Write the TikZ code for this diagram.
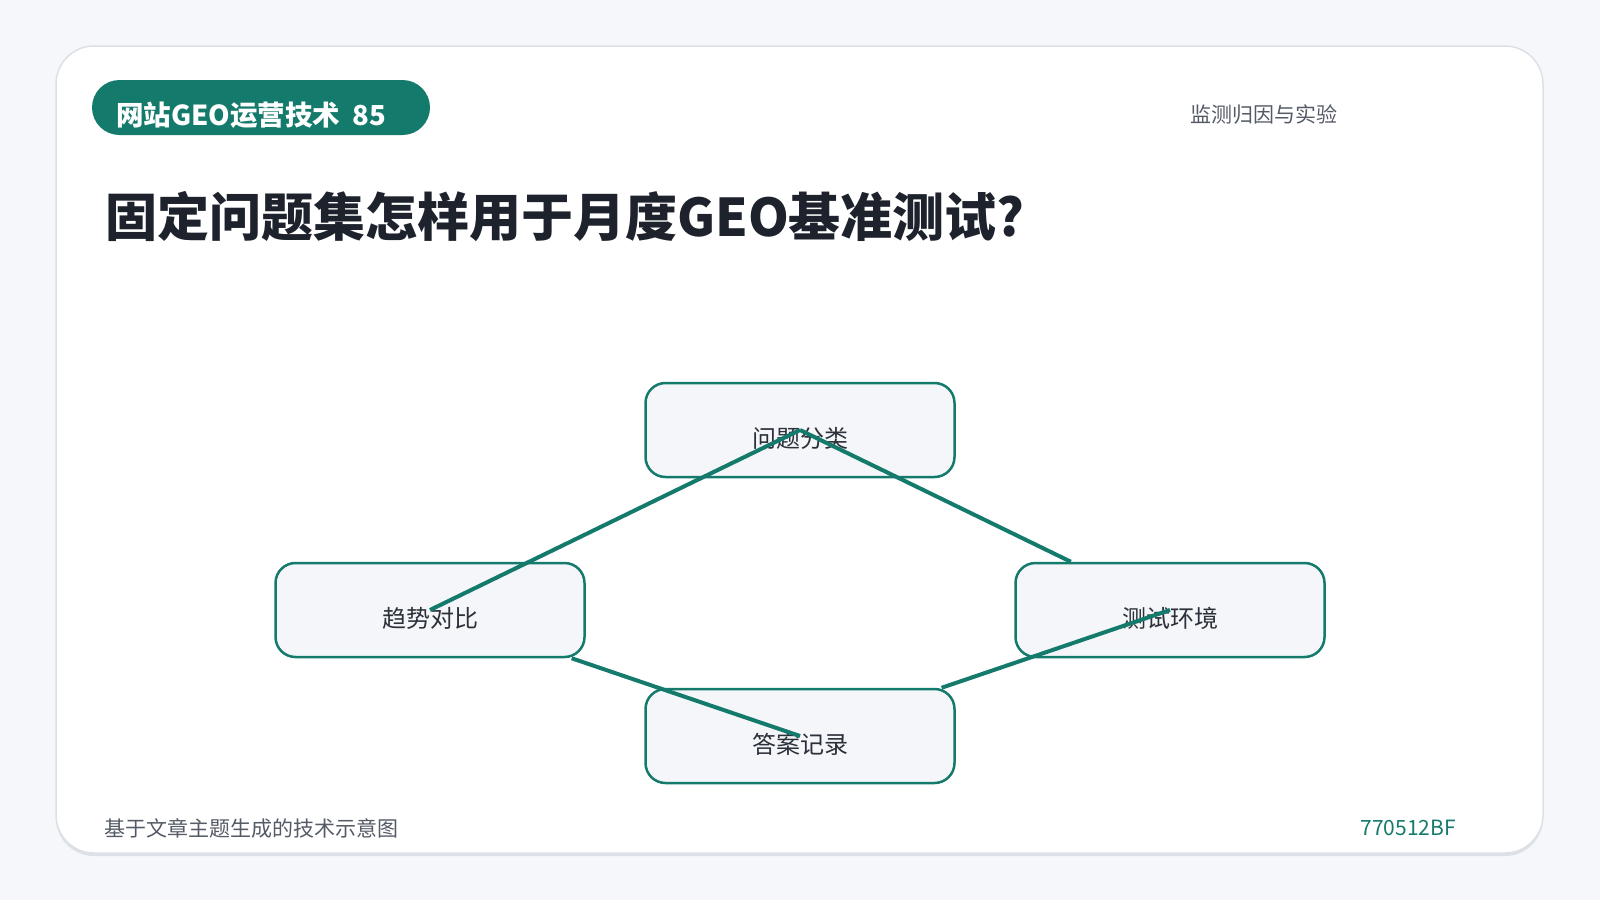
\documentclass[tikz,border=0pt]{standalone}
\usepackage{fontspec}
\setmainfont{Noto Sans CJK SC}
\definecolor{geoteal}{HTML}{147B6C}
\definecolor{pagebg}{HTML}{F5F7FA}
\definecolor{cardline}{HTML}{DCE1E8}
\definecolor{boxfill}{HTML}{F4F6F9}
\definecolor{titleink}{HTML}{1D222C}
\definecolor{greyink}{HTML}{555B66}
\definecolor{nodeink}{HTML}{2B303A}

\begin{document}
\begin{tikzpicture}[x=1pt, y=-1pt]
        \tikzstyle{every node}=[inner sep=0pt]
        \tikzstyle{stepbox}=[draw=geoteal, line width=2.5pt, fill=boxfill, rounded corners=20pt, minimum width=309pt, minimum height=94pt]
        \tikzstyle{steptext}=[text=nodeink, font=\fontsize{24}{28}\selectfont, yshift=-8pt]
        \tikzstyle{link}=[draw=geoteal, line width=4pt]
        \tikzstyle{smalltext}=[font=\fontsize{21}{25}\selectfont]
        \fill[pagebg] (0,0) rectangle (1600,900);
        \useasboundingbox (0,0) rectangle (1600,900);
        \fill[cardline, rounded corners=38pt] (56,49) rectangle (1543,856);
        \draw[cardline, fill=white, line width=1.5pt, rounded corners=38pt] (56,46) rectangle (1543,853);
        \fill[geoteal, rounded corners=27.5pt] (92,80) rectangle (430,135);
        \node (tag) [anchor=west, text=white, font=\fontsize{27.5}{32}\selectfont\bfseries] at (116,115) {网站GEO运营技术~~85};
        \node (topic) [anchor=west, text=greyink, smalltext] at (1190,114) {监测归因与实验};
        \node (title) [anchor=west, text=titleink, font=\fontsize{52}{60}\selectfont\bfseries] at (105,217) {固定问题集怎样用于月度GEO基准测试?};
        \node (cls) [stepbox, label={[steptext]center:问题分类}] at (800,430) {};
        \node (trd) [stepbox, label={[steptext]center:趋势对比}] at (430,610) {};
        \node (tst) [stepbox, label={[steptext]center:测试环境}] at (1170,610) {};
        \node (ans) [stepbox, label={[steptext]center:答案记录}] at (800,736) {};
        \draw[link] (cls.center) -- (tst);
        \draw[link] (tst.center) -- (ans);
        \draw[link] (ans.center) -- (trd);
        \draw[link] (trd.center) -- (cls.center);
        \node (note) [anchor=west, text=greyink, smalltext] at (104,828) {基于文章主题生成的技术示意图};
        \node (code) [anchor=east, text=geoteal, smalltext] at (1456,828) {770512BF};
    \end{tikzpicture}
\end{document}
